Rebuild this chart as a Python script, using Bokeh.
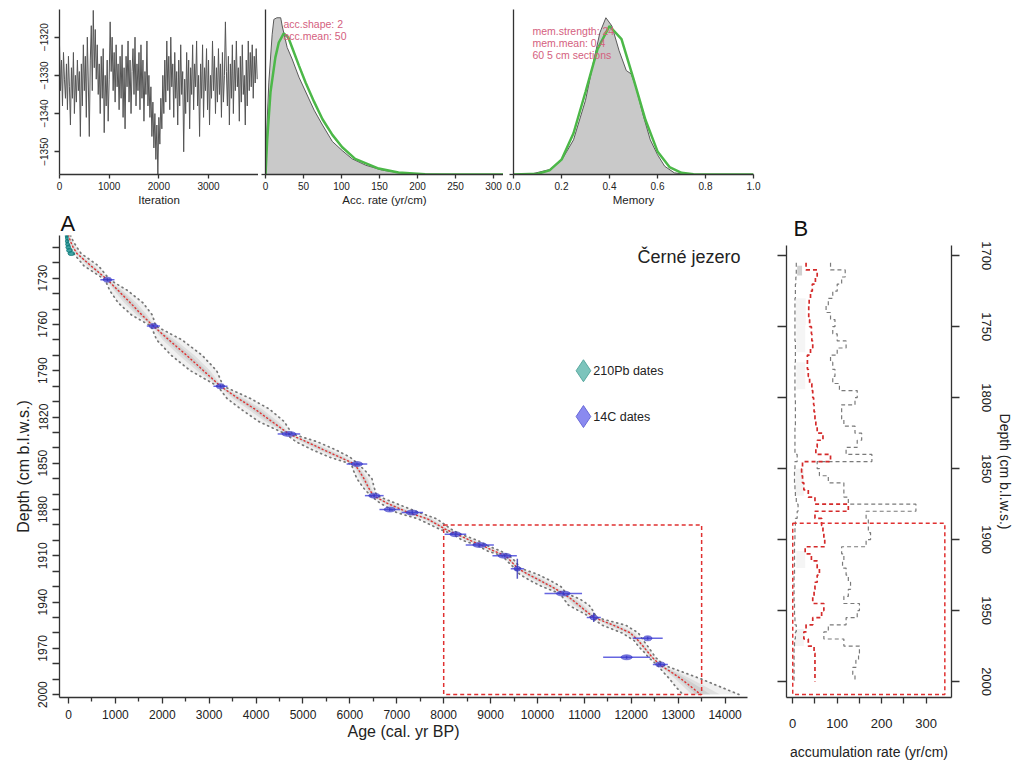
import numpy as np
from bokeh.plotting import figure
from bokeh.layouts import row, column
from bokeh.models import Range1d, FixedTicker, LinearAxis, Label, PrintfTickFormatter
from bokeh.embed import file_html
from bokeh.resources import INLINE
from bokeh.core.properties import value

FONT = "Liberation Sans"
AX = "#333333"

# ---------------- data ----------------
# MCMC log-posterior trace (one value per 20 iterations)
trace_logpost = [
    -1322, -1334, -1326, -1338, -1324, -1331, -1336, -1327, -1339, -1325, -1333, -1343, -1328, -1336, -1324, -1340, -1330, -1337, -1326, -1334,
    -1329, -1346, -1327, -1338, -1322, -1334, -1325, -1341, -1320, -1332, -1346, -1326, -1317, -1334, -1313, -1328, -1318, -1331, -1322, -1335,
    -1327, -1340, -1325, -1336, -1323, -1345, -1330, -1338, -1326, -1342, -1331, -1316, -1329, -1320, -1334, -1324, -1337, -1322, -1333, -1327,
    -1339, -1325, -1336, -1322, -1341, -1328, -1344, -1325, -1333, -1321, -1337, -1326, -1340, -1329, -1323, -1335, -1320, -1338, -1327, -1334,
    -1324, -1339, -1322, -1336, -1326, -1342, -1329, -1335, -1321, -1338, -1330, -1341, -1333, -1346, -1337, -1349, -1340, -1352, -1343, -1356,
    -1341, -1348, -1336, -1344, -1330, -1340, -1326, -1337, -1321, -1334, -1325, -1339, -1320, -1333, -1327, -1341, -1324, -1336, -1329, -1343,
    -1326, -1338, -1322, -1335, -1329, -1350, -1331, -1340, -1324, -1337, -1326, -1344, -1328, -1335, -1322, -1339, -1327, -1333, -1321, -1338,
    -1330, -1346, -1327, -1336, -1322, -1341, -1328, -1334, -1323, -1339, -1326, -1343, -1330, -1336, -1321, -1334, -1325, -1340, -1328, -1337,
    -1323, -1335, -1327, -1341, -1324, -1337, -1330, -1316, -1329, -1338, -1325, -1343, -1327, -1336, -1322, -1340, -1326, -1334, -1321, -1333,
    -1328, -1342, -1325, -1337, -1322, -1335, -1330, -1343, -1326, -1338, -1321, -1334, -1324, -1333, -1322, -1336, -1325, -1332, -1323, -1331,
]
iter_per_value = 20
iter_ticks = [0, 1000, 2000, 3000]
lp_ticks = [-1350, -1340, -1330, -1320]

# accumulation-rate posterior (grey) and prior (green), relative density
acc_post_x = [0, 2, 4.4, 8.8, 11, 15, 20, 22, 28.5, 35, 44, 53, 64, 75, 88, 101, 114, 132, 154, 175, 206, 250, 313]
acc_post_y = [0, 0.30, 0.56, 0.85, 0.94, 0.95, 0.95, 0.90, 0.77, 0.70, 0.59, 0.50, 0.39, 0.30, 0.20, 0.145, 0.095, 0.056, 0.026, 0.012, 0.002, 0, 0]
acc_prior_x = [0, 2.2, 6.6, 13, 17.5, 24, 30, 35, 44, 53, 64, 75, 88, 101, 118, 149, 175, 210, 313]
acc_prior_y = [0, 0.21, 0.50, 0.71, 0.80, 0.855, 0.83, 0.77, 0.66, 0.555, 0.44, 0.335, 0.24, 0.165, 0.095, 0.036, 0.012, 0.002, 0]
acc_ticks = [0, 50, 100, 150, 200, 250, 300]

# memory posterior (grey) and prior (green)
mem_post_x = [0, 0.08, 0.15, 0.2, 0.25, 0.3, 0.33, 0.36, 0.385, 0.41, 0.44, 0.47, 0.49, 0.51, 0.54, 0.57, 0.6, 0.63, 0.67, 0.72, 1.0]
mem_post_y = [0, 0.005, 0.03, 0.085, 0.21, 0.45, 0.66, 0.86, 0.95, 0.90, 0.75, 0.63, 0.61, 0.53, 0.36, 0.21, 0.12, 0.05, 0.01, 0, 0]
mem_prior_x = [0, 0.1, 0.15, 0.2, 0.25, 0.3, 0.35, 0.4, 0.45, 0.5, 0.55, 0.6, 0.65, 0.7, 0.75, 1.0]
mem_prior_y = [0, 0.005, 0.025, 0.09, 0.25, 0.50, 0.76, 0.90, 0.82, 0.58, 0.33, 0.14, 0.045, 0.01, 0.002, 0]
mem_ticks = [0.0, 0.2, 0.4, 0.6, 0.8, 1.0]

# age-depth model
model_depth = [1702, 1706, 1710, 1714, 1722, 1731, 1738, 1746, 1754, 1761, 1770, 1780, 1790, 1800, 1808, 1815, 1823, 1831,
               1836, 1841, 1846, 1850.5, 1855, 1860, 1866, 1871, 1876, 1882, 1886, 1893, 1896, 1900, 1903, 1907, 1910, 1914,
               1918, 1922, 1926, 1930, 1934.5, 1938, 1942, 1946, 1950, 1955, 1960, 1965, 1969, 1973, 1976, 1981, 1986, 1990, 1995, 2000]
model_mean = [0, 40, 100, 180, 480, 830, 1060, 1320, 1570, 1810, 2140, 2520, 2880, 3240, 3620, 3980, 4340, 4700,
              5070, 5420, 5780, 6100, 6200, 6300, 6400, 6500, 6800, 7250, 7650, 8050, 8280, 8560, 8800, 9080, 9320, 9450,
              9570, 9800, 10050, 10300, 10550, 10720, 10880, 11040, 11200, 11620, 11980, 12150, 12260, 12370, 12450, 12620, 12880, 13070, 13280, 13480]
model_min = [-40, -10, 40, 110, 330, 780, 880, 1060, 1350, 1760, 1880, 2190, 2600, 3180, 3380, 3680, 4060, 4630,
             4850, 5180, 5560, 6030, 6080, 6150, 6290, 6440, 6650, 7000, 7450, 7930, 8200, 8400, 8700, 8940, 9250, 9370,
             9510, 9620, 9840, 10100, 10480, 10560, 10660, 10900, 11150, 11380, 11800, 12060, 12160, 12290, 12370, 12560, 12700, 12820, 12950, 13100]
model_max = [40, 100, 180, 270, 640, 880, 1260, 1590, 1790, 1860, 2420, 2850, 3160, 3300, 3880, 4290, 4600, 4770,
             5300, 5680, 6000, 6180, 6330, 6470, 6520, 6570, 6980, 7480, 7850, 8170, 8360, 8720, 8900, 9220, 9400, 9540,
             9630, 10000, 10270, 10500, 10620, 10900, 11100, 11190, 11260, 11880, 12150, 12260, 12360, 12450, 12520, 12700, 13150, 13500, 13900, 14300]

# 14C dates: calibrated age, depth, 2-sigma half range, core half width, depth half range
c14_age = [830, 1810, 3240, 4700, 6150, 6520, 6850, 7330, 8250, 8770, 9300, 9570, 10550, 11200, 12350, 11900, 12620]
c14_depth = [1731, 1761, 1800, 1831, 1850.5, 1871, 1880, 1882, 1896, 1903, 1910, 1918.4, 1934.5, 1950, 1963.5, 1975.8, 1980.5]
c14_err = [150, 140, 150, 240, 220, 200, 220, 230, 230, 300, 260, 140, 400, 150, 320, 500, 160]
c14_core = [90, 90, 90, 150, 120, 120, 120, 130, 120, 150, 140, 70, 150, 80, 90, 120, 100]
c14_derr = [1, 1, 1, 1, 1, 1, 1, 1, 1, 1, 1, 6.5, 1, 3, 1, 1, 1]

# 210Pb dates
pb_age = [-40, -35, -30, -20, -5, 20, 60]
pb_depth = [1702.5, 1704, 1706, 1708, 1710, 1712, 1714]
pb_err = [30, 30, 35, 40, 50, 60, 70]

age_ticks = [0, 1000, 2000, 3000, 4000, 5000, 6000, 7000, 8000, 9000, 10000, 11000, 12000, 13000, 14000]
depth_ticks = [1730, 1760, 1790, 1820, 1850, 1880, 1910, 1940, 1970, 2000]

# highlighted section (A and B)
box_age = [8000, 13500]
box_depth = [1890, 2000]
box_acc = [0, 342]
box_depth_b = [1888.5, 2009]

# panel B: accumulation rate per 5 cm section
sec_top = list(range(1705, 2000, 5))
acc_mean = [30, 55, 51, 44, 40, 37, 36, 36, 38, 42,
            43, 45, 40, 33, 33, 35, 38, 43, 45, 47,
            48, 50, 52, 55, 68, 55, 52, 85, 22, 20,
            22, 25, 35, 50, 125, 50, 65, 68, 70, 72,
            28, 42, 55, 60, 55, 50, 48, 45, 70, 65,
            45, 30, 25, 35, 48, 50, 50, 50, 50]
acc_max = [85, 118, 110, 100, 90, 80, 75, 85, 95, 90,
           100, 120, 100, 85, 90, 95, 90, 105, 145, 140,
           110, 110, 115, 140, 155, 145, 120, 178, 55, 60,
           80, 115, 115, 125, 277, 165, 170, 170, 175, 165,
           110, 115, 112, 120, 125, 130, 125, 115, 150, 145,
           120, 80, 70, 115, 150, 148, 142, 135, 140]
acc_min = [8, 8, 7, 6, 6, 5, 5, 5, 5, 5,
           5, 6, 6, 6, 5, 5, 5, 5, 5, 6,
           6, 6, 6, 5, 5, 5, 5, 10, 5, 4,
           4, 5, 6, 8, 12, 10, 6, 5, 5, 4,
           4, 4, 4, 4, 3, 3, 3, 3, 4, 4,
           5, 8, 6, 4, 3, 3, 3, 3, 3]
shade_lo = [10, 7, 8, 8, 6, 8, 5]
shade_hi = [21, 29, 28, 28, 25, 28, 25]
shade_top = [1707, 1730, 1749, 1775, 1850, 1908, 1963]
shade_bot = [1714, 1749, 1768, 1794, 1869, 1920, 1975]
shade_alpha = [0.45, 0.10, 0.10, 0.10, 0.12, 0.10, 0.12]
b_depth_ticks = [1700, 1750, 1800, 1850, 1900, 1950, 2000]
b_acc_ticks = [0, 100, 200, 300]
b_acc_minor = [50, 150, 250]


# ---------------- helpers ----------------
def make_fig(w, h, xr, yr, l, r, t, b):
    p = figure(width=w, height=h, x_range=xr, y_range=yr, output_backend="svg",
               toolbar_location=None, min_border_left=l, min_border_right=r,
               min_border_top=t, min_border_bottom=b)
    p.grid.visible = False
    p.outline_line_color = None
    p.background_fill_color = "white"
    p.border_fill_color = "white"
    return p


def style_axis(ax, tick_size, label_size=12, tick_out=5, standoff=5, label_standoff=3):
    ax.axis_line_color = AX
    ax.axis_line_width = 1.3
    ax.major_tick_line_color = AX
    ax.minor_tick_line_color = AX
    ax.major_tick_line_width = 1.3
    ax.minor_tick_line_width = 1.3
    ax.major_tick_in = 0
    ax.minor_tick_in = 0
    ax.major_tick_out = tick_out
    ax.minor_tick_out = tick_out
    ax.major_label_text_font = FONT
    ax.major_label_text_font_size = f"{tick_size}px"
    ax.major_label_text_color = "#222222"
    ax.major_label_standoff = standoff
    ax.axis_label_text_font = FONT
    ax.axis_label_text_font_style = "normal"
    ax.axis_label_text_color = "#222222"
    ax.axis_label_text_font_size = f"{label_size}px"
    ax.axis_label_standoff = label_standoff


def hide_labels(ax):
    ax.major_label_text_font_size = "0px"
    ax.major_label_standoff = 0


def panel_title(p, letter, size, offset, standoff):
    p.title.text = letter
    p.title.text_font = FONT
    p.title.text_font_size = size
    p.title.text_font_style = "normal"
    p.title.text_color = "#111111"
    p.title.align = "left"
    p.title.offset = offset
    p.title.standoff = standoff


GREY_FILL = "#c9c9c9"
GREY_LINE = "#5a5a5a"
GREEN = "#4cb848"
PINK = "#d4607e"

TOP_H = 208
# ---------------- top row ----------------
t1 = make_fig(258, TOP_H, Range1d(0, 4006), Range1d(-1355.95, -1312.76), 59, 0, 9, 32)
iterations = np.arange(len(trace_logpost)) * iter_per_value
t1.line(iterations, trace_logpost, color="#555555", line_width=1)
t1.xaxis.ticker = FixedTicker(ticks=iter_ticks)
t1.yaxis.ticker = FixedTicker(ticks=lp_ticks)
style_axis(t1.xaxis[0], 10, 11.5, tick_out=4, standoff=3, label_standoff=1)
style_axis(t1.yaxis[0], 10, 11.5, tick_out=5, standoff=6)
t1.yaxis.major_label_orientation = "vertical"
t1.xaxis.axis_label = "Iteration"

t2 = make_fig(245, TOP_H, Range1d(0, 313.2), Range1d(0, 1.0), 7, 0, 9, 32)
t2.varea(x=acc_post_x, y1=0, y2=acc_post_y, fill_color=GREY_FILL)
t2.line(acc_post_x, acc_post_y, color=GREY_LINE, line_width=1)
t2.line(acc_prior_x, acc_prior_y, color=GREEN, line_width=2.5)
t2.xaxis.ticker = FixedTicker(ticks=acc_ticks)
t2.yaxis.ticker = FixedTicker(ticks=[0])
style_axis(t2.xaxis[0], 10, 11.5, tick_out=4, standoff=3, label_standoff=1)
style_axis(t2.yaxis[0], 10, 11.5, tick_out=4, standoff=0)
hide_labels(t2.yaxis[0])
t2.xaxis.axis_label = "Acc. rate (yr/cm)"
t2.add_layout(Label(x=23.7, y=0.91, text="acc.shape:  2", text_font=FONT, text_font_size="10.5px",
                    text_color=PINK, text_baseline="middle"))
t2.add_layout(Label(x=23.7, y=0.838, text="acc.mean:  50", text_font=FONT, text_font_size="10.5px",
                    text_color=PINK, text_baseline="middle"))

t3 = make_fig(262, TOP_H, Range1d(0, 1.0), Range1d(0, 1.0), 10, 12, 9, 32)
t3.varea(x=mem_post_x, y1=0, y2=mem_post_y, fill_color=GREY_FILL)
t3.line(mem_post_x, mem_post_y, color=GREY_LINE, line_width=1)
t3.line(mem_prior_x, mem_prior_y, color=GREEN, line_width=2.5)
t3.xaxis.ticker = FixedTicker(ticks=mem_ticks)
t3.xaxis.formatter = PrintfTickFormatter(format="%.1f")
t3.yaxis.ticker = FixedTicker(ticks=[0])
style_axis(t3.xaxis[0], 10, 11.5, tick_out=4, standoff=3, label_standoff=1)
style_axis(t3.yaxis[0], 10, 11.5, tick_out=4, standoff=0)
hide_labels(t3.yaxis[0])
t3.xaxis.axis_label = "Memory"
for yy, txt in [(0.868, "mem.strength: 24"), (0.796, "mem.mean: 0.4"), (0.725, "60 5 cm sections")]:
    t3.add_layout(Label(x=0.079, y=yy, text=txt, text_font=FONT, text_font_size="10.5px",
                        text_color=PINK, text_baseline="middle"))

# ---------------- panel A ----------------
MAIN_H = 555
pa = make_fig(756, MAIN_H, Range1d(-192, 14478), Range1d(2001.9, 1702.3), 59, 9, 25, 66)
panel_title(pa, "A", "22px", 1, 0)
mean_arr = np.array(model_mean, dtype=float)
min_arr = np.array(model_min, dtype=float)
max_arr = np.array(model_max, dtype=float)
pa.harea(x1=min_arr, x2=max_arr, y=model_depth, fill_color="#d4d4d4", fill_alpha=0.35)
pa.harea(x1=(mean_arr + min_arr) / 2, x2=(mean_arr + max_arr) / 2, y=model_depth, fill_color="#b8b8b8", fill_alpha=0.3)
pa.harea(x1=(3 * mean_arr + min_arr) / 4, x2=(3 * mean_arr + max_arr) / 4, y=model_depth, fill_color="#a0a0a0", fill_alpha=0.25)
pa.line(model_min, model_depth, color="#777777", line_width=1.7, line_dash="1 4", line_cap="round")
pa.line(model_max, model_depth, color="#777777", line_width=1.7, line_dash="1 4", line_cap="round")
pa.line(model_mean, model_depth, color="#e03030", line_width=1.4, line_dash="1 3", line_cap="round")

# 210Pb
pa.ellipse(x=pb_age, y=pb_depth, width=[2 * e for e in pb_err], height=4, height_units="screen",
           fill_color="#138c8c", fill_alpha=0.8, line_color="#0f7a7a", line_alpha=0.8)
# 14C dates
c_age = np.array(c14_age, dtype=float)
c_dep = np.array(c14_depth, dtype=float)
pa.segment(x0=c_age - np.array(c14_err), y0=c_dep, x1=c_age + np.array(c14_err), y1=c_dep,
           color="#4040d8", line_width=1.5, line_alpha=0.8)
pa.segment(x0=c_age, y0=c_dep - np.array(c14_derr), x1=c_age, y1=c_dep + np.array(c14_derr),
           color="#3030b0", line_width=1.5, line_alpha=0.8)
pa.ellipse(x=c14_age, y=c14_depth, width=[2 * c for c in c14_core], height=5, height_units="screen",
           fill_color="#3a3ad0", fill_alpha=0.65, line_color="#3030c0", line_alpha=0.5)

# highlighted section
pa.quad(left=[box_age[0]], right=[box_age[1]], top=[box_depth[0]], bottom=[box_depth[1]],
        fill_color=None, line_color="#e03030", line_width=1.5, line_dash="4 3")

# legend
pa.scatter(x=[10980], y=[1790], marker="diamond", size=22, fill_color="#7cc4bc", line_color="#5aa9a0")
pa.scatter(x=[10980], y=[1819.7], marker="diamond", size=22, fill_color="#8a8af0", line_color="#6a6ad8")
pa.text(x=[11190, 11190], y=[1790, 1819.7], text=["210Pb dates", "14C dates"], text_font=value(FONT),
        text_font_size="12.5px", text_baseline="middle", text_color="#222222")
pa.text(x=[14330], y=[1716.5], text=["Černé jezero"], text_font=value(FONT), text_font_size="18px",
        text_align="right", text_baseline="middle", text_color="#222222")

pa.xaxis.ticker = FixedTicker(ticks=age_ticks, minor_ticks=[t + 500 for t in age_ticks])
pa.yaxis.ticker = FixedTicker(ticks=depth_ticks,
                              minor_ticks=[d - k for d in depth_ticks for k in (10, 20)])
style_axis(pa.xaxis[0], 12, 16, tick_out=6, standoff=6, label_standoff=1)
style_axis(pa.yaxis[0], 12, 16, tick_out=7, standoff=5, label_standoff=4)
pa.xaxis.minor_tick_out = 4
pa.yaxis.major_label_orientation = "vertical"
pa.xaxis.axis_label = "Age (cal. yr BP)"
pa.yaxis.axis_label = "Depth (cm b.l.w.s.)"

# ---------------- panel B ----------------
pb = make_fig(259, MAIN_H, Range1d(-14, 357), Range1d(2011.2, 1692.8), 30, 64, 35, 66)
panel_title(pb, "B", "22px", 7, 10)
tops = np.array(sec_top, dtype=float)
step_y = np.column_stack([tops, tops + 5]).ravel()
pb.quad(left=shade_lo, right=shade_hi, top=shade_top, bottom=shade_bot,
        fill_color="#9a9a9a", fill_alpha=shade_alpha, line_color=None)
pb.line(np.repeat(acc_min, 2), step_y, color="#7a7a7a", line_width=1.2, line_dash="4 3")
pb.line(np.repeat(acc_max, 2), step_y, color="#7a7a7a", line_width=1.2, line_dash="4 3")
pb.line(np.repeat(acc_mean, 2), step_y, color="#d42a2a", line_width=1.7, line_dash="4 3")
pb.quad(left=[box_acc[0]], right=[box_acc[1]], top=[box_depth_b[0]], bottom=[box_depth_b[1]],
        fill_color=None, line_color="#e03030", line_width=1.5, line_dash="4 3")

pb.xaxis.ticker = FixedTicker(ticks=b_acc_ticks, minor_ticks=b_acc_minor)
style_axis(pb.xaxis[0], 13, 14, tick_out=6, standoff=15, label_standoff=13)
pb.xaxis.axis_label = "accumulation rate (yr/cm)"
pb.yaxis.ticker = FixedTicker(ticks=b_depth_ticks)
style_axis(pb.yaxis[0], 13, 14, tick_out=9, standoff=0)
hide_labels(pb.yaxis[0])
right_ax = LinearAxis(ticker=FixedTicker(ticks=b_depth_ticks))
style_axis(right_ax, 13, 14, tick_out=8, standoff=22, label_standoff=3)
right_ax.major_label_orientation = "vertical"
right_ax.axis_label = "Depth (cm b.l.w.s.)"
pb.add_layout(right_ax, "right")

layout = column(row(t1, t2, t3), row(column(pa), column(pb)))
open("out.html", "w").write(file_html(layout, INLINE))
